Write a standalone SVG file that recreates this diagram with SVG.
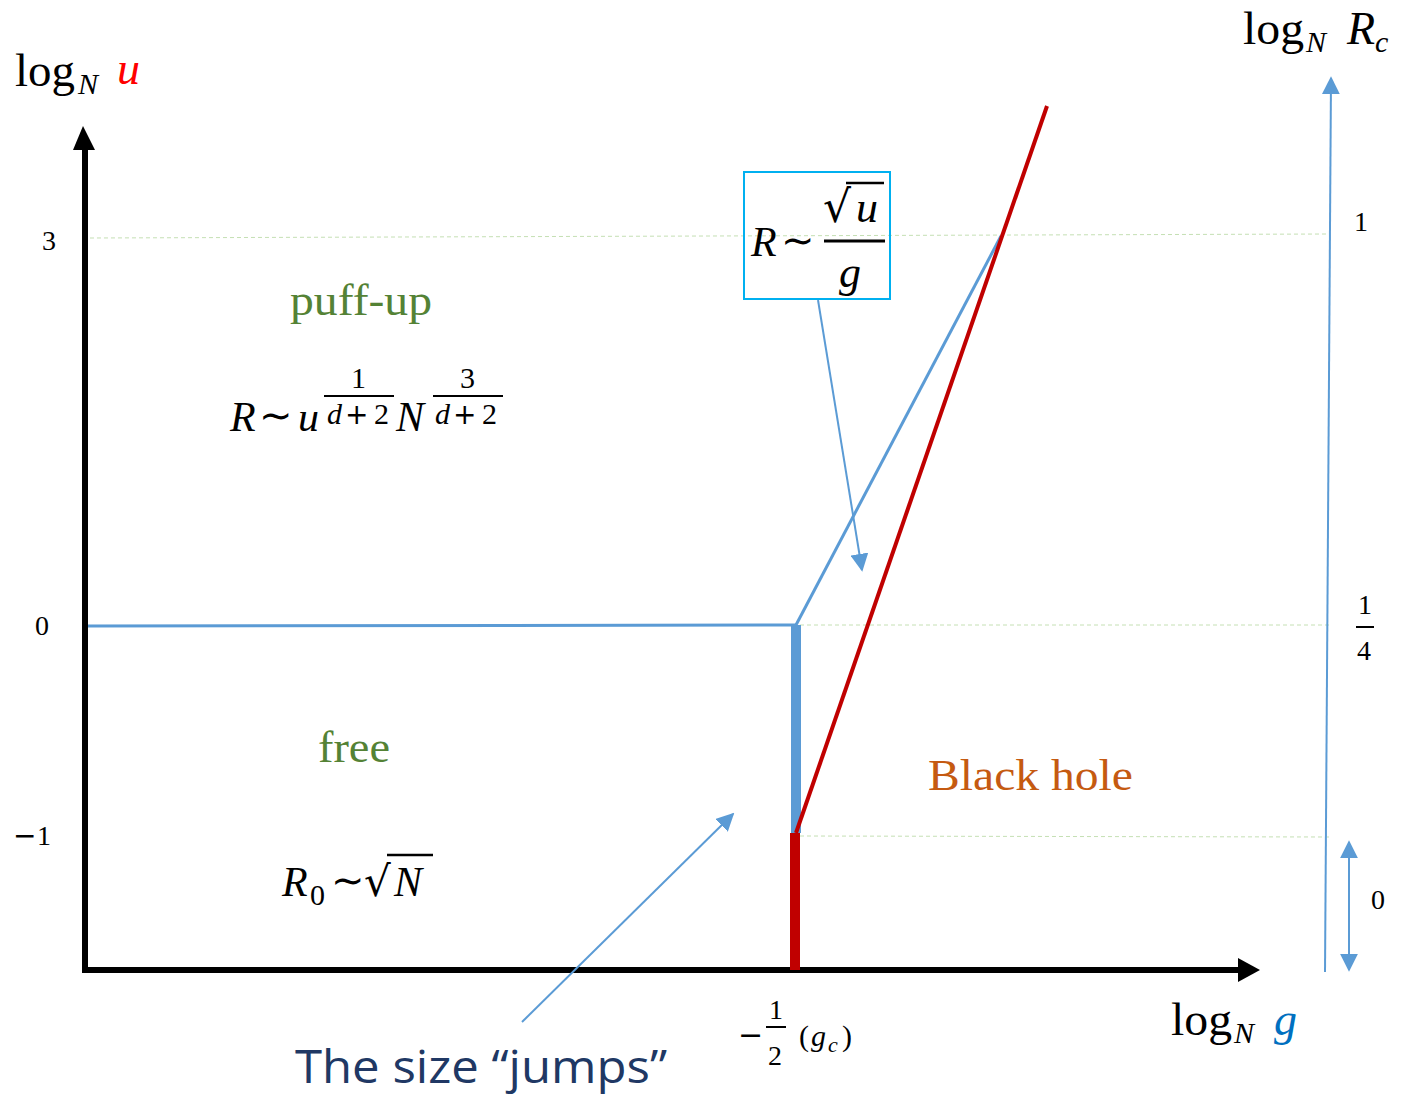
<svg xmlns="http://www.w3.org/2000/svg" width="1401" height="1097" viewBox="0 0 1401 1097">
<style>
.m{font-family:"Liberation Serif","DejaVu Serif",serif;fill:#000}
.i{font-style:italic}
.t{font-family:"DejaVu Sans",sans-serif;fill:#000}
.grid{stroke:#C5E0B4;stroke-width:1;stroke-dasharray:4 3;fill:none}
.blue{stroke:#5B9BD5;fill:none}
.lbl{font-family:"Liberation Serif",serif;font-size:44px}
</style>
<defs>
<marker id="ab2" viewBox="0 0 10 10" refX="9" refY="5" markerWidth="18" markerHeight="18" orient="auto-start-reverse" markerUnits="userSpaceOnUse">
<path d="M0,0 L10,5 L0,10 z" fill="#5B9BD5"/>
</marker>
</defs>
<rect width="1401" height="1097" fill="#fff"/>
<g id="grid">
<line class="grid" x1="90" y1="238" x2="1330" y2="234"/>
<line class="grid" x1="800" y1="625" x2="1330" y2="625"/>
<line class="grid" x1="800" y1="836" x2="1330" y2="837"/>
</g>
<g id="axes">
<line x1="85" y1="973" x2="85" y2="148" stroke="#000" stroke-width="6"/>
<path d="M73,150 L83,126 L95,150 z" fill="#000"/>
<line x1="82" y1="970" x2="1240" y2="970" stroke="#000" stroke-width="6"/>
<path d="M1238,958 L1260,970 L1238,982 z" fill="#000"/>
</g>
<g id="connectors">
<line x1="88" y1="626" x2="796" y2="625" class="blue" stroke-width="3"/>
<line x1="796" y1="625" x2="1001" y2="236" class="blue" stroke-width="3"/>
<line x1="796" y1="625" x2="796" y2="833" class="blue" stroke-width="10"/>
<line x1="795" y1="833" x2="795" y2="970" stroke="#C00000" stroke-width="10"/>
<line x1="796" y1="833" x2="1047" y2="106" stroke="#C00000" stroke-width="4"/>
<line x1="1325" y1="972" x2="1331" y2="78" class="blue" stroke-width="2" marker-end="url(#ab2)"/>
<line x1="1349" y1="842" x2="1349" y2="970" class="blue" stroke-width="2" marker-start="url(#ab2)" marker-end="url(#ab2)"/>
<line x1="818" y1="300" x2="862" y2="570" class="blue" stroke-width="2" marker-end="url(#ab2)"/>
<line x1="522" y1="1022" x2="733" y2="814" class="blue" stroke-width="2" marker-end="url(#ab2)"/>
</g>
<g id="axis-u-label">
<text class="m" x="15" y="86" font-size="46" textLength="60" lengthAdjust="spacingAndGlyphs">log</text>
<text class="m i" x="78" y="94" font-size="30">N</text>
<text class="m i" x="117" y="84" font-size="46" style="fill:#FF0000">u</text>
</g>
<g id="axis-rc-label">
<text class="m" x="1243" y="44" font-size="46" textLength="61" lengthAdjust="spacingAndGlyphs">log</text>
<text class="m i" x="1306" y="52" font-size="30">N</text>
<text class="m i" x="1347" y="44" font-size="46">R</text>
<text class="m i" x="1375" y="52" font-size="30">c</text>
</g>
<g id="axis-g-label">
<text class="m" x="1171" y="1035" font-size="46" textLength="61" lengthAdjust="spacingAndGlyphs">log</text>
<text class="m i" x="1234" y="1043" font-size="30">N</text>
<text class="m i" x="1274" y="1035" font-size="46" style="fill:#0070C0">g</text>
</g>
<g id="ticks">
<text class="m" x="42" y="250" font-size="28">3</text>
<text class="m" x="35" y="635" font-size="28">0</text>
<text class="t" x="13" y="845" font-size="28">−</text>
<text class="m" x="37" y="845" font-size="28">1</text>
<text class="m" x="1354" y="231" font-size="28">1</text>
<text class="m" x="1358" y="614" font-size="28">1</text>
<line x1="1356" y1="627" x2="1374" y2="627" stroke="#000" stroke-width="2"/>
<text class="m" x="1357" y="660" font-size="28">4</text>
<text class="m" x="1371" y="909" font-size="28">0</text>
<text class="t" x="738" y="1045" font-size="30">−</text>
<text class="m" x="769" y="1019" font-size="28">1</text>
<line x1="766" y1="1027" x2="786" y2="1027" stroke="#000" stroke-width="2"/>
<text class="m" x="768" y="1065" font-size="28">2</text>
<text class="m" x="799" y="1046" font-size="30">(</text>
<text class="m i" x="811" y="1046" font-size="30">g</text>
<text class="m i" x="828" y="1052" font-size="22">c</text>
<text class="m" x="842" y="1046" font-size="30">)</text>
</g>
<g id="box-formula">
<rect x="744" y="172" width="146" height="127" fill="none" stroke="#00B0F0" stroke-width="2"/>
<text class="m i" x="751" y="256" font-size="42">R</text>
<text class="t" x="781" y="254" font-size="40">∼</text>
<text class="t" x="823" y="222" font-size="44">√</text>
<line x1="846" y1="183" x2="884" y2="183" stroke="#000" stroke-width="2.5"/>
<text class="m i" x="856" y="222" font-size="44">u</text>
<line x1="824" y1="241" x2="885" y2="241" stroke="#000" stroke-width="3"/>
<text class="m i" x="839" y="287" font-size="44">g</text>
</g>
<g id="region-puffup">
<text class="lbl" x="290" y="315" textLength="142" lengthAdjust="spacingAndGlyphs" style="fill:#548235">puff-up</text>
<text class="m i" x="230" y="431" font-size="42">R</text>
<text class="t" x="259" y="429" font-size="40">∼</text>
<text class="m i" x="298" y="431" font-size="42">u</text>
<text class="m" x="351" y="388" font-size="30">1</text>
<line x1="324" y1="396" x2="394" y2="396" stroke="#000" stroke-width="2"/>
<text class="m i" x="327" y="424" font-size="30">d</text>
<text class="t" x="345" y="424" font-size="28">+</text>
<text class="m" x="374" y="424" font-size="30">2</text>
<text class="m i" x="396" y="431" font-size="42">N</text>
<text class="m" x="460" y="388" font-size="30">3</text>
<line x1="433" y1="396" x2="503" y2="396" stroke="#000" stroke-width="2"/>
<text class="m i" x="435" y="424" font-size="30">d</text>
<text class="t" x="453" y="424" font-size="28">+</text>
<text class="m" x="482" y="424" font-size="30">2</text>
</g>
<g id="region-free">
<text class="lbl" x="318" y="762" textLength="72" lengthAdjust="spacingAndGlyphs" style="fill:#548235">free</text>
<text class="m i" x="282" y="896" font-size="42">R</text>
<text class="m" x="310" y="905" font-size="30">0</text>
<text class="t" x="331" y="894" font-size="40">∼</text>
<text class="t" x="364" y="896" font-size="42">√</text>
<line x1="387" y1="855" x2="433" y2="855" stroke="#000" stroke-width="2.5"/>
<text class="m i" x="394" y="896" font-size="42">N</text>
</g>
<g id="region-blackhole">
<text class="lbl" x="928" y="790" textLength="205" lengthAdjust="spacingAndGlyphs" style="fill:#C55A11">Black hole</text>
</g>
<g id="jump-label">
<text x="295" y="1083" font-family="Open Sans, Liberation Sans, sans-serif" font-size="45" fill="#203864" textLength="372" lengthAdjust="spacingAndGlyphs">The size “jumps”</text>
</g>
</svg>
